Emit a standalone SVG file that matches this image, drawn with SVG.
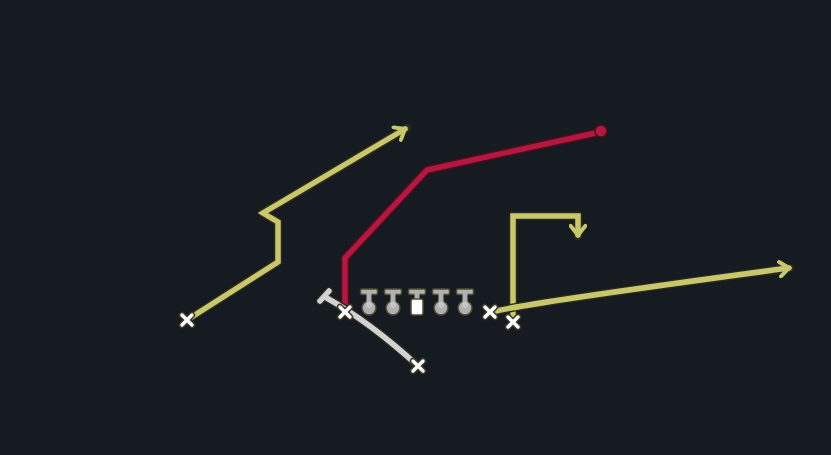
<svg xmlns="http://www.w3.org/2000/svg" width="831" height="455" viewBox="0 0 831 455">
<defs>
<style>
.halo{fill:none;stroke:#2a2a1c;stroke-width:8.5;stroke-linecap:round;stroke-linejoin:round}
.y{fill:none;stroke:#c9c76c;stroke-width:5.5;stroke-linejoin:miter;stroke-linecap:round}
.r{fill:none;stroke:#b4173f;stroke-width:5.5;stroke-linejoin:round;stroke-linecap:round}
.rh{fill:none;stroke:#4a0e1c;stroke-width:8.5;stroke-linecap:round;stroke-linejoin:round}
.w{fill:none;stroke:#d2d2d2;stroke-width:5.5;stroke-linecap:round}
.xo{stroke:#3a3a2a;stroke-width:6.5;stroke-linecap:round}
.xi{stroke:#ffffff;stroke-width:3.4;stroke-linecap:round}
.lo{fill:#b0b0b0;stroke:#4d4c2e;stroke-width:1.5}
</style>
<marker id="arr" viewBox="0 0 10 10" refX="7" refY="5" markerWidth="3.3" markerHeight="3.3" orient="auto" markerUnits="strokeWidth">
<path d="M2,1 L7,5 L2,9" fill="none" stroke="#c9c76c" stroke-width="2.2" stroke-linecap="round" stroke-linejoin="miter"/>
</marker>
<g id="xmark">
<line class="xo" x1="-5" y1="-5" x2="5" y2="5"/><line class="xo" x1="-5" y1="5" x2="5" y2="-5"/>
<line class="xi" x1="-5" y1="-5" x2="5" y2="5"/><line class="xi" x1="-5" y1="5" x2="5" y2="-5"/>
</g>
<g id="lineman">
<rect x="-8.5" y="-19" width="17" height="5.5" rx="1.5" class="lo"/>
<circle cx="0" cy="0" r="7" class="lo"/>
<rect x="-2.5" y="-15" width="5" height="10" fill="#b0b0b0"/>
<circle cx="0" cy="-3" r="3" fill="#c6c6c6"/>
</g>
</defs>
<rect width="831" height="455" fill="#161a21"/>
<g id="connectors">
<path class="halo" d="M187,320 L278,262 L278,222 L263,213 L407,128"/>
<path class="y" d="M187,320 L278,262 L278,222 L263,213 L405,129" marker-end="url(#arr)"/>
<path class="rh" d="M345,308 L345,258 L427,170 L600,132"/>
<path class="r" d="M345,308 L345,258 L427,170 L600,132"/>
<circle cx="601" cy="131" r="6" fill="#b4173f" stroke="#4a0e1c" stroke-width="1.5"/>
<path class="halo" d="M513,318 L513,216 L578,216 L578,236"/>
<path class="y" d="M513,318 L513,216 L578,216 L578,235" marker-end="url(#arr)"/>
<path class="halo" d="M492,312 Q520,304 790,268"/>
<path class="y" d="M492,312 Q520,304 789,268" marker-end="url(#arr)"/>
<path class="halo" d="M325,297 Q370,322 418,366 M320,301 L329,291"/>
<path class="w" d="M325,297 Q370,322 418,366"/>
<line class="w" x1="320" y1="301" x2="329" y2="291"/>
</g>
<g id="player-lwr"><use href="#xmark" x="187" y="320"/></g>
<g id="player-lt-te"><use href="#xmark" x="345" y="312"/></g>
<g id="player-rb"><use href="#xmark" x="418" y="366"/></g>
<g id="player-slot"><use href="#xmark" x="490" y="312"/></g>
<g id="player-rwr"><use href="#xmark" x="513" y="322"/></g>
<g id="lg1"><use href="#lineman" x="369" y="308"/></g>
<g id="lg2"><use href="#lineman" x="393" y="308"/></g>
<g id="center">
<rect x="408.5" y="289" width="17" height="5.5" rx="1.5" class="lo"/>
<rect x="414.5" y="293" width="5" height="8" fill="#b0b0b0"/>
<rect x="411" y="299" width="12" height="16" rx="2" fill="#ffffff" stroke="#4d4c2e" stroke-width="1.5"/>
</g>
<g id="rg1"><use href="#lineman" x="441" y="308"/></g>
<g id="rg2"><use href="#lineman" x="465" y="308"/></g>
</svg>
